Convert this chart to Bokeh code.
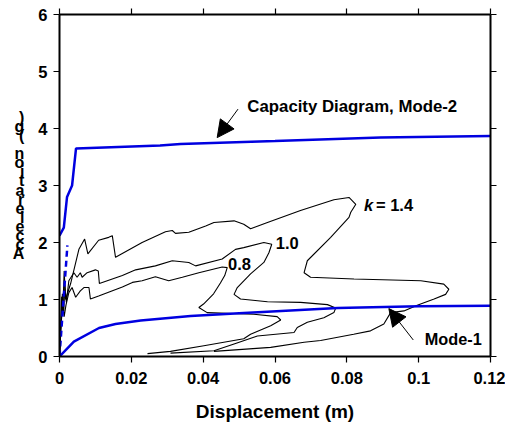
from bokeh.plotting import figure
from bokeh.models import FixedTicker, LinearAxis, Range1d, Arrow, NormalHead, Label
from bokeh.embed import file_html
from bokeh.resources import INLINE

# ---------------- data ----------------
x_ticks = [0, 0.02, 0.04, 0.06, 0.08, 0.1, 0.12]
x_tick_labels = ["0", "0.02", "0.04", "0.06", "0.08", "0.1", "0.12"]
y_ticks = [0, 1, 2, 3, 4, 5, 6]
y_tick_labels = ["0", "1", "2", "3", "4", "5", "6"]

mode2_x = [0.0, 0.0012, 0.0021, 0.0035, 0.0046, 0.028, 0.0337, 0.06, 0.0894, 0.12]
mode2_y = [2.12, 2.26, 2.80, 3.00, 3.65, 3.70, 3.73, 3.78, 3.84, 3.87]

mode1_x = [0.0, 0.004, 0.011, 0.0156, 0.0226, 0.0365, 0.05, 0.0774, 0.1, 0.12]
mode1_y = [0.0, 0.26, 0.50, 0.57, 0.63, 0.71, 0.76, 0.85, 0.88, 0.89]

elastic_x = [0.0, 0.0022]
elastic_y = [0.0, 1.95]

k14_x = [0.0, 0.0003, 0.0006, 0.0009, 0.0013, 0.0017, 0.0031, 0.0054, 0.0070, 0.0079,
         0.0109, 0.0137, 0.0147, 0.0156, 0.0230, 0.0295, 0.0314, 0.0323, 0.0360, 0.0407,
         0.0430, 0.0486, 0.0513, 0.0532, 0.0579, 0.0671, 0.0764, 0.0806, 0.0825, 0.0811,
         0.0806, 0.0755, 0.0690, 0.0681, 0.0699, 0.0820, 0.1006, 0.1070, 0.1084, 0.1075,
         0.1043, 0.0996, 0.0959, 0.0922, 0.0903, 0.0866, 0.0819, 0.0727, 0.0681, 0.0588,
         0.0430]
k14_y = [0.0, 0.50, 1.05, 0.75, 1.50, 1.00, 1.28, 1.88, 2.06, 1.80,
         2.04, 2.09, 2.12, 1.74, 2.00, 2.19, 2.21, 2.16, 2.18, 2.29,
         2.35, 2.38, 2.32, 2.24, 2.35, 2.56, 2.75, 2.79, 2.67, 2.53,
         2.44, 2.09, 1.68, 1.47, 1.39, 1.36, 1.33, 1.27, 1.18, 1.09,
         1.01, 0.90, 0.80, 0.77, 0.57, 0.45, 0.39, 0.28, 0.25, 0.16,
         0.09]

k10_x = [0.0, 0.0004, 0.0008, 0.0012, 0.0015, 0.0019, 0.0026, 0.0040, 0.0049, 0.0058,
         0.0063, 0.0077, 0.0100, 0.0108, 0.0111, 0.0175, 0.0212, 0.0267, 0.0314, 0.0360,
         0.0379, 0.0453, 0.0490, 0.0513, 0.0569, 0.0591, 0.0583, 0.0569, 0.0532, 0.0495,
         0.0486, 0.0504, 0.0579, 0.0671, 0.0746, 0.0769, 0.0764, 0.0736, 0.0690, 0.0662,
         0.0653, 0.0551, 0.0486, 0.0430, 0.0309]
k10_y = [0.0, 0.55, 1.10, 0.80, 1.25, 0.95, 1.33, 1.47, 1.39, 1.47,
         1.39, 1.47, 1.52, 1.50, 1.28, 1.42, 1.52, 1.59, 1.68, 1.65,
         1.59, 1.71, 1.88, 1.91, 2.00, 1.97, 1.82, 1.65, 1.45, 1.21,
         1.09, 1.01, 0.96, 0.95, 0.91, 0.85, 0.77, 0.68, 0.60, 0.51,
         0.42, 0.36, 0.22, 0.10, 0.06]

k08_x = [0.0, 0.0005, 0.0009, 0.0013, 0.0018, 0.0026, 0.0035, 0.0045, 0.0058, 0.0068,
         0.0082, 0.0086, 0.0109, 0.0175, 0.0203, 0.0230, 0.0267, 0.0304, 0.0342, 0.0388,
         0.0453, 0.0467, 0.0460, 0.0448, 0.0429, 0.0401, 0.0388, 0.0411, 0.0541, 0.0606,
         0.0616, 0.0588, 0.0532, 0.0513, 0.0402, 0.0309, 0.0245]
k08_y = [0.0, 0.60, 0.95, 0.70, 0.90, 1.12, 1.21, 1.04, 1.15, 1.21,
         1.21, 1.01, 1.06, 1.22, 1.30, 1.33, 1.40, 1.33, 1.39, 1.47,
         1.57, 1.56, 1.42, 1.29, 1.10, 0.92, 0.86, 0.77, 0.74, 0.70,
         0.64, 0.54, 0.39, 0.31, 0.19, 0.09, 0.05]

FONT = "Liberation Sans"
BLUE = "#0000e0"

# ---------------- figure ----------------
p = figure(width=505, height=428, x_range=Range1d(0, 0.12), y_range=Range1d(0, 6),
           output_backend="svg", toolbar_location=None,
           min_border_left=59, min_border_right=15, min_border_top=14, min_border_bottom=72)
p.outline_line_color = None
p.grid.visible = False
p.background_fill_color = "white"
p.border_fill_color = "white"

xr = LinearAxis()
yr = LinearAxis()
p.add_layout(xr, "above")
p.add_layout(yr, "right")

for ax in [p.below[0], xr]:
    ax.ticker = FixedTicker(ticks=x_ticks)
    ax.major_label_overrides = {t: l for t, l in zip(x_ticks, x_tick_labels)}
for ax in [p.left[0], yr]:
    ax.ticker = FixedTicker(ticks=y_ticks)
    ax.major_label_overrides = {t: l for t, l in zip(y_ticks, y_tick_labels)}

for ax in [p.below[0], p.left[0], xr, yr]:
    ax.axis_line_width = 2
    ax.axis_line_color = "black"
    ax.major_tick_line_width = 1.2
    ax.major_tick_line_color = "black"
    ax.major_tick_out = 6
    ax.major_tick_in = 0
    ax.minor_tick_line_color = None
    ax.major_label_text_font = FONT
    ax.major_label_text_font_style = "bold"
    ax.major_label_text_font_size = "16.5px"
    ax.major_label_text_color = "black"

# frame ticks on top / right carry no labels
for ax in [xr, yr]:
    ax.major_label_text_color = None
    ax.major_label_text_font_size = "1px"
    ax.major_label_standoff = 0

xa = p.below[0]
xa.major_label_standoff = 9
xa.axis_label = "Displacement (m)"
xa.axis_label_text_font = FONT
xa.axis_label_text_font_style = "bold"
xa.axis_label_text_font_size = "19px"
xa.axis_label_text_color = "black"
xa.axis_label_standoff = 14

ya = p.left[0]
ya.major_label_standoff = 6
ya.axis_label = "\n".join(reversed(list("Acceleration (g)")))
ya.axis_label_orientation = "horizontal"
ya.axis_label_text_font = FONT
ya.axis_label_text_font_style = "bold"
ya.axis_label_text_font_size = "16px"
ya.axis_label_text_line_height = 0.53
ya.axis_label_text_color = "black"
ya.axis_label_standoff = 11

# ---------------- curves ----------------
p.line(k08_x, k08_y, line_color="black", line_width=1.1)
p.line(k10_x, k10_y, line_color="black", line_width=1.1)
p.line(k14_x, k14_y, line_color="black", line_width=1.1)
p.line(elastic_x, elastic_y, line_color=BLUE, line_width=2.5, line_dash="6 4")
p.line(mode1_x, mode1_y, line_color=BLUE, line_width=2.5)
p.line(mode2_x, mode2_y, line_color=BLUE, line_width=2.5)

# ---------------- annotations ----------------
def lab(x, y, t, style="bold", size="16.5px", align="left"):
    p.add_layout(Label(x=x, y=y, text=t, text_font=FONT, text_font_style=style,
                       text_font_size=size, text_color="black",
                       text_align=align, text_baseline="middle"))

lab(0.0523, 4.38, "Capacity Diagram, Mode-2", size="16.8px")
lab(0.1017, 0.31, "Mode-1", size="16.3px")
lab(0.0848, 2.66, "k", style="bold italic")
lab(0.0881, 2.66, "= 1.4")
lab(0.0602, 2.0, "1.0")
lab(0.0469, 1.62, "0.8")

p.add_layout(Arrow(end=NormalHead(size=17, fill_color="black", line_color="black"),
                   x_start=0.0497, y_start=4.34, x_end=0.0439, y_end=3.84,
                   line_color="black", line_width=1))
p.add_layout(Arrow(end=NormalHead(size=17, fill_color="black", line_color="black"),
                   x_start=0.0985, y_start=0.29, x_end=0.0917, y_end=0.84,
                   line_color="black", line_width=1))

open("out.html", "w").write(file_html(p, INLINE))
